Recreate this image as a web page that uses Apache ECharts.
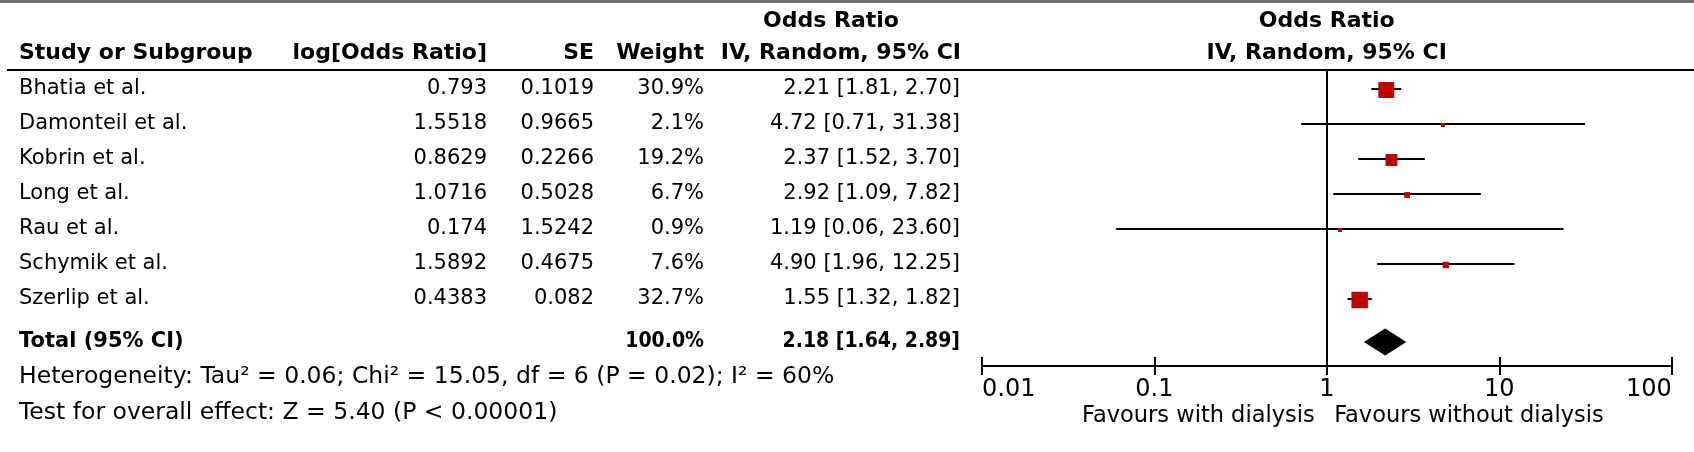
<!DOCTYPE html>
<html><head><meta charset="utf-8">
<script src="https://cdn.jsdelivr.net/npm/echarts@6/dist/echarts.min.js"></script>
<style>html,body{margin:0;padding:0;background:#fff}#c{width:1694px;height:452px}</style>
</head><body><div id="c"></div>
<script>
// ---- data ----
const studies = ['Bhatia et al.','Damonteil et al.','Kobrin et al.','Long et al.','Rau et al.','Schymik et al.','Szerlip et al.'];
const logOR = ['0.793','1.5518','0.8629','1.0716','0.174','1.5892','0.4383'];
const seVals = ['0.1019','0.9665','0.2266','0.5028','1.5242','0.4675','0.082'];
const weights = [30.9, 2.1, 19.2, 6.7, 0.9, 7.6, 32.7];
const orVals = [2.21, 4.72, 2.37, 2.92, 1.19, 4.90, 1.55];
const ciLow = [1.81, 0.71, 1.52, 1.09, 0.06, 1.96, 1.32];
const ciHigh = [2.70, 31.38, 3.70, 7.82, 23.60, 12.25, 1.82];
const totalLabel = 'Total (95% CI)';
const totalWeight = [100.0];
const totalOR = [2.18];
const totalLow = [1.64];
const totalHigh = [2.89];
const heterogeneityText = 'Heterogeneity: Tau² = 0.06; Chi² = 15.05, df = 6 (P = 0.02); I² = 60%';
const overallText = 'Test for overall effect: Z = 5.40 (P < 0.00001)';
const xTickLabels = {'0.01':'0.01','0.1':'0.1','1':'1','10':'10','100':'100'};
const favLeft = 'Favours with dialysis';
const favRight = 'Favours without dialysis';
const headerCols = ['Study or Subgroup','log[Odds Ratio]','SE','Weight','IV, Random, 95% CI'];
const headerTop = 'Odds Ratio';

// ---- layout ----
const W = 1694, H = 452;
const ROW0 = 89, ROWH = 35;
const TOTAL_Y = 342;
const GRID_TOP = 70, AXIS_Y = 366;
const X_STUDY = 19, X_LOG = 487, X_SE = 594, X_W = 704, X_CI = 960;
const X_ONE = 1326.7;
const FF = '"DejaVu Sans"';
const FONT_DATA = '21px ' + FF;
const FONT_HEAD = 'bold 22px ' + FF;
const FONT_TOT = 'bold 21px ' + FF;
const FONT_TOT_N = 'bold 21px "DejaVu Sans Condensed"';
const FONT_FOOT = '23.5px ' + FF;
const FONT_FAV = '22.5px ' + FF;
const RED = '#c00000';

const fmt2 = v => v.toFixed(2);
const ciText = (o, l, h) => fmt2(o) + ' [' + fmt2(l) + ', ' + fmt2(h) + ']';

function txt(x, y, text, align, font) {
  return {type: 'text', style: {x: x, y: y, text: text, align: align, textAlign: align,
    verticalAlign: 'middle', textVerticalAlign: 'middle', font: font, fill: '#000'}};
}

const chart = echarts.init(document.getElementById('c'), null, {renderer: 'canvas'});

const yMin = (GRID_TOP - ROW0) / ROWH;
const yMax = (AXIS_Y - ROW0) / ROWH;
const totalRow = (TOTAL_Y - ROW0) / ROWH;

const studyData = studies.map((s, i) => [ciLow[i], ciHigh[i], orVals[i], i, weights[i]]);

const axisBase = {type: 'log', logBase: 10, min: 0.01, max: 100, position: 'bottom', gridIndex: 0,
  splitLine: {show: false}, minorTick: {show: false}};

const option = {
  backgroundColor: '#fff',
  animation: false,
  grid: {left: 982, right: W - 1671.7, top: GRID_TOP, bottom: H - AXIS_Y, containLabel: false},
  xAxis: [Object.assign({}, axisBase, {
    axisLine: {show: true, onZero: false, lineStyle: {color: '#000', width: 2}},
    axisTick: {show: true, inside: false, length: 9, lineStyle: {color: '#000', width: 2}},
    axisLabel: {show: true, color: '#000', fontFamily: 'DejaVu Sans', fontSize: 24, margin: 12,
      formatter: v => xTickLabels[String(+(+v).toPrecision(3))] || '',
      alignMinLabel: 'left', alignMaxLabel: 'right'}
  }), Object.assign({}, axisBase, {
    axisLine: {show: false, onZero: false},
    axisTick: {show: true, inside: true, length: 9, lineStyle: {color: '#000', width: 2}},
    axisLabel: {show: false}
  })],
  yAxis: {type: 'value', inverse: true, min: yMin, max: yMax, show: false},
  series: [{
    type: 'custom', name: 'studies', xAxisIndex: 0,
    data: studyData,
    encode: {x: [0, 1, 2], y: 3},
    renderItem: function (params, api) {
      const row = api.value(3);
      const pl = api.coord([api.value(0), row]);
      const ph = api.coord([api.value(1), row]);
      const pc = api.coord([api.value(2), row]);
      const sz = Math.max(4, 3.4 * Math.sqrt(api.value(4)) - 3);
      return {type: 'group', children: [
        {type: 'line', shape: {x1: pl[0], y1: pl[1], x2: ph[0], y2: ph[1]},
          style: {stroke: '#000', lineWidth: 2}},
        {type: 'rect', shape: {x: pc[0] - sz / 2, y: pc[1] - sz / 2 + 1, width: sz, height: sz},
          style: {fill: RED}}
      ]};
    },
    markLine: {silent: true, symbol: 'none', label: {show: false},
      lineStyle: {color: '#000', width: 2, type: 'solid'}, data: [{xAxis: 1}]}
  }, {
    type: 'custom', name: 'total',
    data: [[totalLow[0], totalHigh[0], totalOR[0], totalRow]],
    encode: {x: [0, 1, 2], y: 3},
    renderItem: function (params, api) {
      const row = api.value(3);
      const pl = api.coord([api.value(0), row]);
      const ph = api.coord([api.value(1), row]);
      const pc = api.coord([api.value(2), row]);
      const hh = 13.5;
      return {type: 'polygon', shape: {points: [[pl[0], pc[1]], [pc[0], pc[1] - hh], [ph[0], pc[1]], [pc[0], pc[1] + hh]]},
        style: {fill: '#000'}};
    }
  }, {
    type: 'custom', name: 'table', clip: false,
    data: studies.map((s, i) => [1, i]),
    encode: {x: 0, y: 1},
    renderItem: function (params, api) {
      const i = params.dataIndex;
      const y = api.coord([1, api.value(1)])[1];
      return {type: 'group', children: [
        txt(X_STUDY, y, studies[i], 'left', FONT_DATA),
        txt(X_LOG, y, logOR[i], 'right', FONT_DATA),
        txt(X_SE, y, seVals[i], 'right', FONT_DATA),
        txt(X_W, y, weights[i].toFixed(1) + '%', 'right', FONT_DATA),
        txt(X_CI, y, ciText(orVals[i], ciLow[i], ciHigh[i]), 'right', FONT_DATA)
      ]};
    }
  }, {
    type: 'custom', name: 'totalText', clip: false,
    data: [[1, totalRow]],
    encode: {x: 0, y: 1},
    renderItem: function (params, api) {
      const y = api.coord([1, api.value(1)])[1];
      return {type: 'group', children: [
        txt(X_STUDY, y, totalLabel, 'left', FONT_TOT),
        txt(X_W, y, totalWeight[0].toFixed(1) + '%', 'right', FONT_TOT_N),
        txt(X_CI, y, ciText(totalOR[0], totalLow[0], totalHigh[0]), 'right', FONT_TOT_N),
        txt(X_STUDY, y + 35, heterogeneityText, 'left', FONT_FOOT),
        txt(X_STUDY, y + 71, overallText, 'left', FONT_FOOT)
      ]};
    }
  }],
  graphic: [
    {type: 'rect', shape: {x: 0, y: 0, width: W, height: 3}, style: {fill: '#707070'}},
    {type: 'line', shape: {x1: 7, y1: GRID_TOP, x2: W, y2: GRID_TOP}, style: {stroke: '#000', lineWidth: 2}},
    txt(831, 21, headerTop, 'center', FONT_HEAD),
    txt(X_STUDY, 53, headerCols[0], 'left', FONT_HEAD),
    txt(X_LOG, 53, headerCols[1], 'right', FONT_HEAD),
    txt(X_SE, 53, headerCols[2], 'right', FONT_HEAD),
    txt(X_W, 53, headerCols[3], 'right', FONT_HEAD),
    txt(X_CI + 1, 53, headerCols[4], 'right', FONT_HEAD),
    txt(X_ONE, 21, headerTop, 'center', FONT_HEAD),
    txt(X_ONE, 53, headerCols[4], 'center', FONT_HEAD),
    txt(X_ONE - 12, 416, favLeft, 'right', FONT_FAV),
    txt(X_ONE + 7.5, 416, favRight, 'left', FONT_FAV)
  ]
};
chart.setOption(option);
</script>
</body></html>
